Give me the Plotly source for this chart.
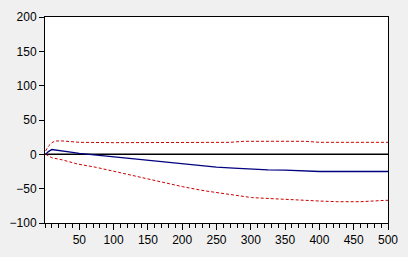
import plotly.graph_objects as go

# Impulse response (blue) and confidence bands (red dashed)
resp_x = [1, 5, 10, 15, 20, 30, 40, 50, 60, 70, 80, 100, 125, 150, 175, 200, 225, 250, 275, 300, 325, 350, 375, 400, 450, 500]
resp_y = [0, 4, 7, 6.5, 6, 4.5, 3, 1.5, 0.5, -0.5, -1.5, -3.5, -6.5, -9.5, -12, -14.5, -16.5, -18.5, -20, -21.5, -22.5, -23, -24, -25, -25, -25]

upper_x = [1, 5, 10, 15, 25, 40, 50, 100, 200, 270, 290, 380, 400, 500]
upper_y = [5, 12, 17, 19.5, 19.5, 18, 17.5, 17, 17.5, 17.5, 19, 19, 17.5, 17.5]

lower_x = [1, 10, 25, 47, 75, 93, 125, 162, 200, 232, 270, 301, 340, 371, 400, 426, 460, 496, 500]
lower_y = [0, -5, -8, -14, -19, -23, -31, -39, -47, -53, -59, -63, -65, -66, -68, -69, -69, -67, -67]

x_ticks = [50, 100, 150, 200, 250, 300, 350, 400, 450, 500]
y_ticks = [-100, -50, 0, 50, 100, 150, 200]

fig = go.Figure()
fig.add_trace(go.Scatter(x=upper_x, y=upper_y, mode="lines",
                         line=dict(color="#CC0000", width=1, dash="3px,2px")))
fig.add_trace(go.Scatter(x=lower_x, y=lower_y, mode="lines",
                         line=dict(color="#CC0000", width=1, dash="3px,2px")))
fig.add_trace(go.Scatter(x=resp_x, y=resp_y, mode="lines",
                         line=dict(color="#000080", width=1.3)))

fig.add_shape(type="line", xref="paper", yref="y", x0=0, x1=1, y0=0, y1=0,
              line=dict(color="black", width=1.5), layer="below")

fig.update_layout(
    width=408, height=257,
    margin=dict(l=33, r=15, t=10, b=31),
    paper_bgcolor="#F0F0F0", plot_bgcolor="white",
    showlegend=False,
    font=dict(family="Liberation Sans, Arial, sans-serif", size=12, color="black"),
)
fig.update_xaxes(range=[0, 500], tickvals=x_ticks, ticks="outside", ticklen=6,
                 tickcolor="black", showgrid=False, zeroline=False,
                 showline=True, linecolor="black", linewidth=1, mirror=True,
                 minor=dict(ticks="outside", dtick=10, tick0=0, ticklen=4, tickcolor="black"))
fig.update_yaxes(range=[-100, 200], tickvals=y_ticks, ticks="outside", ticklen=5,
                 tickcolor="black", showgrid=False, zeroline=False,
                 showline=True, linecolor="black", linewidth=1, mirror=True)

fig.write_html("out.html")
